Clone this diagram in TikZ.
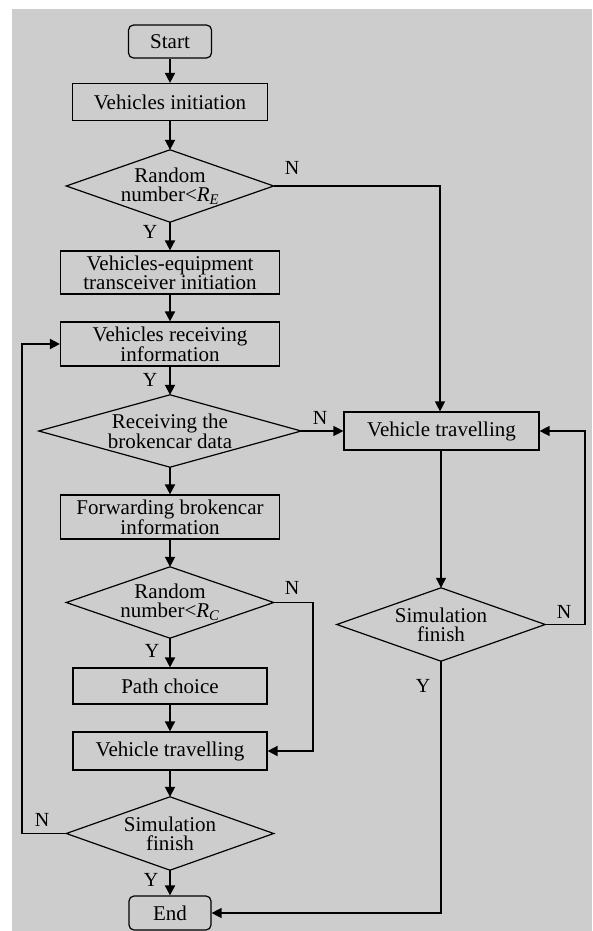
\documentclass[tikz,border=0pt]{standalone}
\usepackage{fontspec}
\setmainfont{Liberation Serif}
\usetikzlibrary{arrows.meta}
\definecolor{bggray}{RGB}{205,205,205}
\begin{document}
\begin{tikzpicture}[x=1pt,y=-1pt,
  every node/.style={font=\fontsize{21}{19}\selectfont, align=center, inner sep=0pt},
  box/.style={draw, line width=1.2pt, minimum width=#1},
  term/.style={draw, line width=1.2pt, rounded corners=5pt, minimum width=83pt, minimum height=33pt},
  dia/.style={minimum width=#1},
  lbl/.style={font=\fontsize{20}{20}\selectfont},
  conn/.style={line width=1.8pt, -{Triangle[length=10pt,width=10pt]}},
  connb/.style={line width=1.8pt},
  conr/.style={line width=1.3pt, -{Triangle[length=10pt,width=10pt]}}
]
\useasboundingbox (0,0) rectangle (592,931);
\fill[white] (0,0) rectangle (592,931);
\fill[bggray] (12,9) rectangle (592,931);

% left column
\node[term] (start) at (170,41.5) {Start};
\node[box=195pt, minimum height=37pt] (init) at (170,102) {Vehicles initiation};
\node[dia=207pt, minimum height=72pt] (d1) at (170,186) {Random\\number<\textit{R}\textsubscript{\textit{E}}};
\node[box=219pt, minimum height=43pt] (equip) at (170,272.5) {Vehicles-equipment\\transceiver initiation};
\node[box=219pt, minimum height=44pt] (recv) at (170,344) {Vehicles receiving\\information};
\node[dia=262pt, minimum height=72pt] (d2) at (170,431) {Receiving the\\brokencar data};
\node[box=219pt, minimum height=44pt] (fwd) at (170,517) {Forwarding brokencar\\information};
\node[dia=207pt, minimum height=71pt] (d3) at (170,602.5) {Random\\number<\textit{R}\textsubscript{\textit{C}}};
\node[box=194pt, minimum height=36pt] (path) at (170,686) {Path choice};
\node[box=194pt, minimum height=38pt] (vtl) at (170,751) {Vehicle travelling};
\node[dia=207pt, minimum height=73pt] (d4) at (170,833.5) {Simulation\\finish};
\node[term, minimum width=82pt, minimum height=34pt] (end) at (170,913) {End};

% right column
\node[box=195pt, minimum height=38pt] (vtr) at (441.5,431) {Vehicle travelling};
\node[dia=208pt, minimum height=73pt] (dr) at (441,624.5) {Simulation\\finish};

% diamond outlines
\foreach \d in {d1,d2,d3,d4,dr}
  \draw[line width=1.2pt, line join=miter] (\d.north) -- (\d.east) -- (\d.south) -- (\d.west) -- cycle;

% coordinates for bends
\coordinate (c1) at (440,186);
\coordinate (c3a) at (313,602.5);
\coordinate (c3b) at (313,751);
\coordinate (c4a) at (22,833.5);
\coordinate (c4b) at (22,344);
\coordinate (cra) at (585,624.5);
\coordinate (crb) at (585,431);
\coordinate (crc) at (441,913);

% main flow
\draw[conn] (start) -- (init);
\draw[conn] (init) -- (d1.north);
\draw[conn] (d1.south) -- (equip);
\draw[conn] (equip) -- (recv);
\draw[conn] (recv) -- (d2.north);
\draw[conn] (d2.south) -- (fwd);
\draw[conn] (fwd) -- (d3.north);
\draw[conn] (d3.south) -- (path);
\draw[conn] (path) -- (vtl);
\draw[conn] (vtl) -- (d4.north);
\draw[conn] (d4.south) -- (end);

% branches
\draw[conr] (d1.east) -- (c1) -- (vtr.north -| c1);
\draw[conr] (d2.east) -- (vtr.west);
\draw[conr] (vtr.south -| dr.north) -- (dr.north);
\draw[conr] (dr.east) -- (cra) -- (crb) -- (vtr.east);
\draw[conr] (dr.south) -- (crc) -- (end.east);
\draw[conn] (d3.east) -- (c3a) -- (c3b) -- (vtl.east);
\draw[conn] (d4.west) -- (c4a) -- (c4b) -- (recv.west);

% labels
\node[lbl] (n1) at (292,168) {N};
\node[lbl] (y1) at (150,232) {Y};
\node[lbl] (y2) at (150,380) {Y};
\node[lbl] (n2) at (320,418) {N};
\node[lbl] (n3) at (292,588) {N};
\node[lbl] (y3) at (152,651) {Y};
\node[lbl] (n4) at (42,820) {N};
\node[lbl] (y4) at (151,880) {Y};
\node[lbl] (n5) at (564,612) {N};
\node[lbl] (y5) at (423,686) {Y};
\end{tikzpicture}
\end{document}
